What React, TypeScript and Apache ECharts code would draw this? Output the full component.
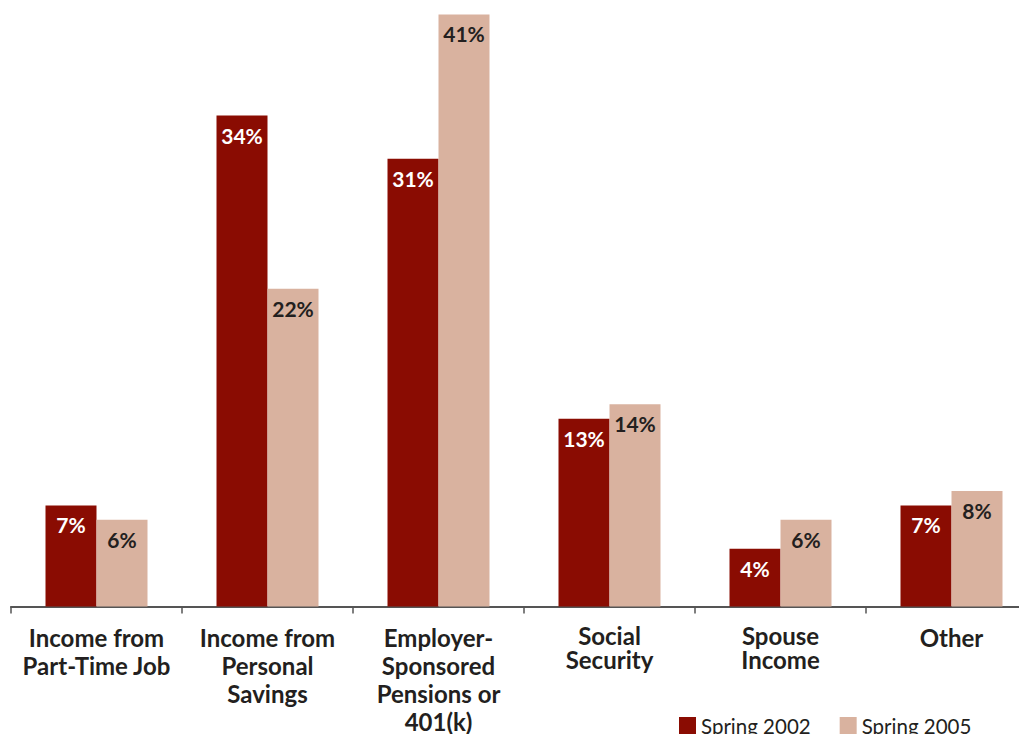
import React, { useEffect, useRef } from "react";
import * as echarts from "echarts";

const categories = [
  "Income from\nPart-Time Job",
  "Income from\nPersonal\nSavings",
  "Employer-\nSponsored\nPensions or\n401(k)",
  "Social\nSecurity",
  "Spouse\nIncome",
  "Other",
];
const tightLabels = ["Social\nSecurity", "Spouse\nIncome"];
const spring2002 = [7, 34, 31, 13, 4, 7];
const spring2005 = [6, 22, 41, 14, 6, 8];
const seriesNames = ["Spring 2002", "Spring 2005"];

const FONT = "Lato, 'Open Sans', sans-serif";

export default function App() {
  const ref = useRef<HTMLDivElement>(null);
  useEffect(() => {
    if (!ref.current) return;
    const chart = echarts.init(ref.current, null, { renderer: "svg" });
    const labelStyle = (color: string) => ({
      show: true,
      position: "insideTop",
      distance: 9,
      formatter: "{c}%",
      color,
      fontFamily: FONT,
      fontWeight: "bold",
      fontSize: 21,
    });
    chart.setOption({
      animation: false,
      backgroundColor: "#ffffff",
      grid: { left: 11, top: 0, width: 1026, height: 606.5, containLabel: false },
      legend: {
        left: 679,
        top: 715,
        padding: 0,
        itemWidth: 17,
        itemHeight: 17,
        itemGap: 29,
        icon: "rect",
        textStyle: { fontFamily: FONT, fontSize: 20.5, color: "#231f20" },
        data: seriesNames,
      },
      xAxis: {
        type: "category",
        data: categories,
        axisLine: { lineStyle: { color: "#555555", width: 2 } },
        axisTick: { show: true, length: 7, lineStyle: { color: "#555555", width: 1.5 } },
        axisLabel: {
          interval: 0,
          margin: 17,
          formatter: (v: string) => {
            const style = tightLabels.includes(v) ? "t" : "n";
            return v
              .split("\n")
              .map((l) => `{${style}|${l}}`)
              .join("\n");
          },
          rich: {
            n: { fontFamily: FONT, fontWeight: "bold", fontSize: 24, color: "#231f20", lineHeight: 28, align: "center" },
            t: { fontFamily: FONT, fontWeight: "bold", fontSize: 24, color: "#231f20", lineHeight: 24, align: "center" },
          },
        },
      },
      yAxis: {
        type: "value",
        min: 0,
        max: 42,
        show: false,
        splitLine: { show: false },
      },
      series: [
        {
          name: seriesNames[0],
          type: "bar",
          data: spring2002,
          barWidth: 51,
          barGap: "0%",
          itemStyle: { color: "#8a0c02" },
          label: labelStyle("#ffffff"),
        },
        {
          name: seriesNames[1],
          type: "bar",
          data: spring2005,
          barWidth: 51,
          barGap: "0%",
          itemStyle: { color: "#d9b29f" },
          label: labelStyle("#231f20"),
        },
      ],
    });
    return () => chart.dispose();
  }, []);
  return (
    <div
      ref={ref}
      style={{ position: "fixed", left: 0, top: 0, width: 1040, height: 734 }}
    />
  );
}
